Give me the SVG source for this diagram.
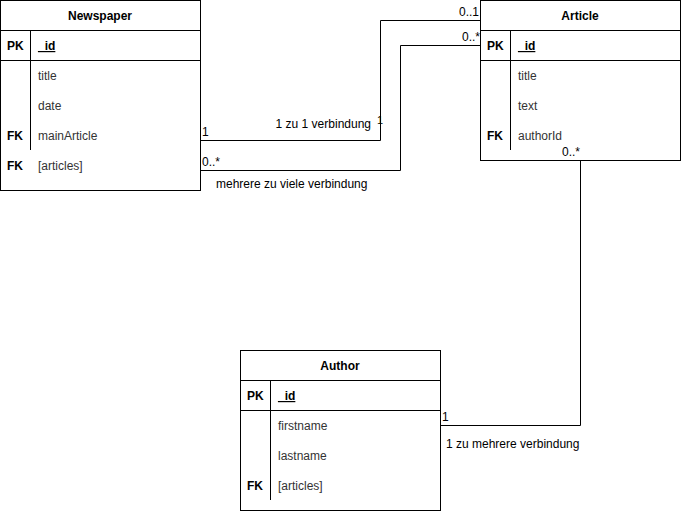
<svg xmlns="http://www.w3.org/2000/svg" width="681" height="511" viewBox="0 0 681 511">
<style>
.box{fill:#fff;stroke:#000;stroke-width:1}
.ln{stroke:#000;stroke-width:1;fill:none}
text{font-family:"Liberation Sans",Arial,sans-serif;font-size:12px;fill:#000}
.t{font-weight:bold;text-anchor:middle}
.k{font-weight:bold}
.pk{font-weight:bold;text-decoration:underline}
.f{fill:#333}
.sm{font-size:11px}
</style>
<rect width="681" height="511" fill="#fff"/>
<g id="newspaper">
<rect class="box" x="0.5" y="0.5" width="200" height="190"/>
<line class="ln" x1="0.5" y1="30.5" x2="200.5" y2="30.5"/>
<line class="ln" x1="0.5" y1="60.5" x2="200.5" y2="60.5"/>
<line class="ln" x1="30.5" y1="30.5" x2="30.5" y2="150"/>
<text class="t" x="100" y="20">Newspaper</text>
<text class="k" x="7" y="50">PK</text>
<text class="pk" x="38" y="50">_id</text>
<text class="f" x="38" y="80">title</text>
<text class="f" x="38" y="110">date</text>
<text class="k" x="7" y="140">FK</text>
<text class="f" x="38" y="140">mainArticle</text>
<text class="k" x="7" y="170">FK</text>
<text class="f" x="38" y="170">[articles]</text>
</g>
<g id="article">
<rect class="box" x="480.5" y="0.5" width="200" height="160"/>
<line class="ln" x1="480.5" y1="30.5" x2="680.5" y2="30.5"/>
<line class="ln" x1="480.5" y1="60.5" x2="680.5" y2="60.5"/>
<line class="ln" x1="510.5" y1="30.5" x2="510.5" y2="150"/>
<text class="t" x="580" y="20">Article</text>
<text class="k" x="487" y="50">PK</text>
<text class="pk" x="518" y="50">_id</text>
<text class="f" x="518" y="80">title</text>
<text class="f" x="518" y="110">text</text>
<text class="k" x="487" y="140">FK</text>
<text class="f" x="518" y="140">authorId</text>
</g>
<g id="author">
<rect class="box" x="240.5" y="350.5" width="200" height="160"/>
<line class="ln" x1="240.5" y1="380.5" x2="440.5" y2="380.5"/>
<line class="ln" x1="240.5" y1="410.5" x2="440.5" y2="410.5"/>
<line class="ln" x1="270.5" y1="380.5" x2="270.5" y2="500"/>
<text class="t" x="340" y="370">Author</text>
<text class="k" x="247" y="400">PK</text>
<text class="pk" x="278" y="400">_id</text>
<text class="f" x="278" y="430">firstname</text>
<text class="f" x="278" y="460">lastname</text>
<text class="k" x="247" y="490">FK</text>
<text class="f" x="278" y="490">[articles]</text>
</g>
<g id="connectors">
<polyline class="ln" points="200.5,140.5 380.5,140.5 380.5,20.5 480.5,20.5"/>
<polyline class="ln" points="200.5,170.5 400.5,170.5 400.5,45.5 480.5,45.5"/>
<polyline class="ln" points="440.5,425.5 580.5,425.5 580.5,160.5"/>
<text x="202" y="136">1</text>
<text x="371" y="128" text-anchor="end">1 zu 1 verbindung</text>
<text x="377" y="124" class="sm">1</text>
<text x="479" y="16" text-anchor="end">0..1</text>
<text x="202" y="166">0..*</text>
<text x="216" y="188">mehrere zu viele verbindung</text>
<text x="480" y="41" text-anchor="end">0..*</text>
<text x="442" y="421">1</text>
<text x="446" y="448">1 zu mehrere verbindung</text>
<text x="562" y="156">0..*</text>
</g>
</svg>
